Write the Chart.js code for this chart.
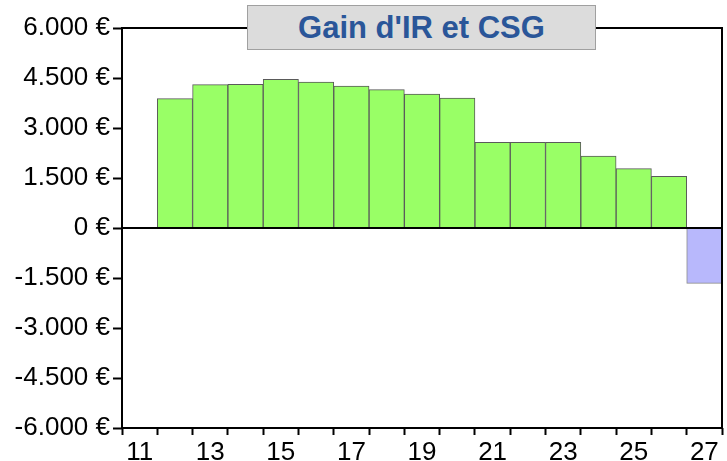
<!DOCTYPE html>
<html>
<head>
<meta charset="utf-8">
<script src="https://cdn.jsdelivr.net/npm/chart.js@4/dist/chart.umd.min.js"></script>
<style>
  html, body { margin: 0; padding: 0; background: #ffffff; }
  #wrap { position: relative; width: 727px; height: 461px; }
  #title {
    position: absolute; left: 247px; top: 5px; width: 347px; height: 43px;
    background: #dcdcdc; border: 1px solid #a0a0a0;
    font-family: "Liberation Sans", Arial, sans-serif; font-weight: bold;
    font-size: 31px; color: #2a5699; text-align: center; line-height: 43px;
  }
</style>
</head>
<body>
<div id="wrap">
  <canvas id="c" width="727" height="461"></canvas>
  <div id="title">Gain d'IR et CSG</div>
</div>
<script>
const categories = ['11','12','13','14','15','16','17','18','19','20','21','22','23','24','25','26','27'];
const gains = [null, 3880, 4300, 4310, 4460, 4380, 4260, 4150, 4020, 3900, 2570, 2570, 2570, 2160, 1780, 1550, -1660];
const yTicks = [-6000, -4500, -3000, -1500, 0, 1500, 3000, 4500, 6000];

function fmtEuro(v) {
  const s = String(Math.abs(v)).replace(/\B(?=(\d{3})+(?!\d))/g, '.');
  return (v < 0 ? '-' : '') + s + ' €';
}

const framePlugin = {
  id: 'frame',
  afterDatasetsDraw(chart) {
    const { ctx, chartArea: a, scales } = chart;
    ctx.save();
    ctx.strokeStyle = '#000';
    ctx.lineWidth = 2;
    const y0 = scales.y.getPixelForValue(0);
    ctx.beginPath();
    ctx.moveTo(a.left, y0);
    ctx.lineTo(a.right, y0);
    ctx.stroke();
    ctx.strokeRect(a.left, a.top, a.right - a.left, a.bottom - a.top);
    ctx.restore();
  }
};

new Chart(document.getElementById('c'), {
  type: 'bar',
  data: {
    labels: categories,
    datasets: [{
      data: gains,
      backgroundColor: gains.map(v => (v !== null && v < 0) ? '#b8b8fc' : '#99ff66'),
      borderColor: gains.map(v => (v !== null && v < 0) ? '#8a8a8a' : '#5a5a5a'),
      borderWidth: 1,
      barPercentage: 1,
      categoryPercentage: 1
    }]
  },
  plugins: [framePlugin],
  options: {
    responsive: false,
    devicePixelRatio: 1,
    animation: false,
    layout: { padding: { top: 28, right: 5, left: 0, bottom: 0 } },
    plugins: { legend: { display: false }, tooltip: { enabled: false }, title: { display: false } },
    scales: {
      x: {
        type: 'category',
        afterFit(scale) { scale.height = 33; },
        grid: { offset: true, drawOnChartArea: false, tickLength: 7, tickWidth: 2, tickColor: '#000', color: '#000' },
        border: { display: false },
        ticks: {
          autoSkip: false, maxRotation: 0, padding: 2,
          color: '#000',
          font: { family: '"Liberation Sans", Arial, sans-serif', size: 26 },
          callback(val, idx) { return idx % 2 === 0 ? categories[idx] : ''; }
        }
      },
      y: {
        min: -6000, max: 6000,
        afterFit(scale) { scale.width = 122; },
        afterBuildTicks(scale) { scale.ticks = yTicks.map(v => ({ value: v })); },
        grid: { drawOnChartArea: false, tickLength: 9, tickWidth: 2, tickColor: '#000', color: '#000' },
        border: { display: false },
        ticks: {
          padding: 3, color: '#000',
          font: { family: '"Liberation Sans", Arial, sans-serif', size: 26 },
          callback(v) { return fmtEuro(v); }
        }
      }
    }
  }
});
</script>
</body>
</html>
